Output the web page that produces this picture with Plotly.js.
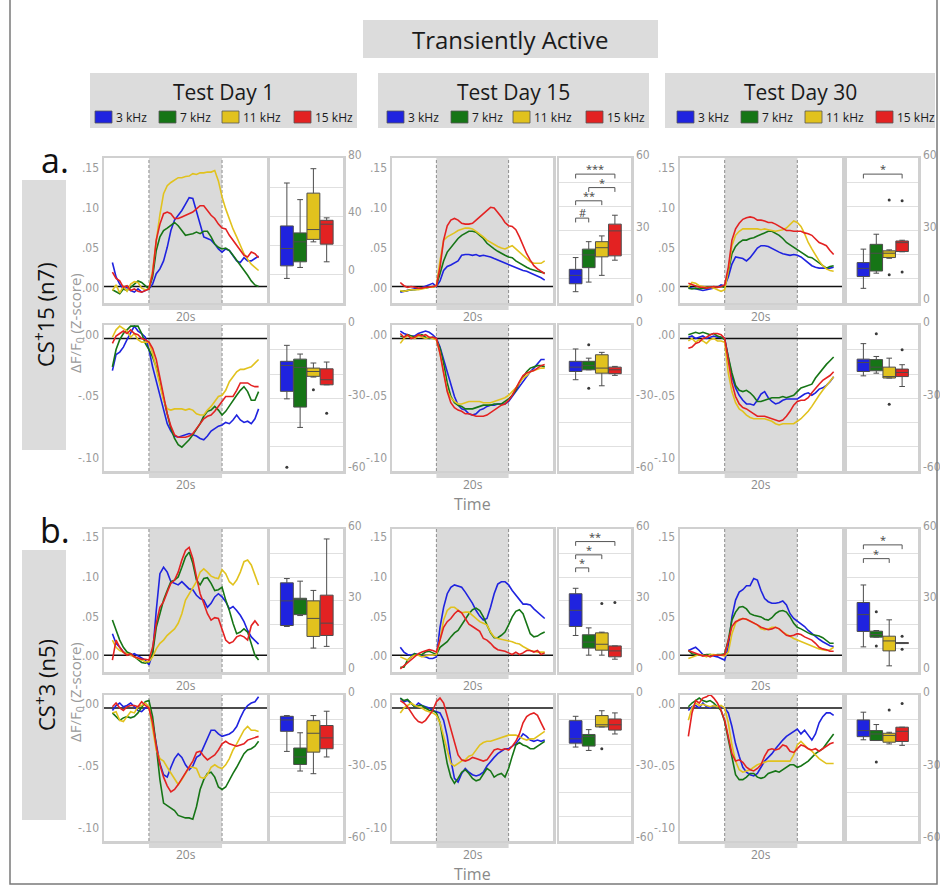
<!DOCTYPE html>
<html>
<head>
<meta charset="utf-8">
<script src="https://cdn.plot.ly/plotly-3.0.1.min.js"></script>
<style>
  html, body { margin: 0; padding: 0; background: #fff; }
  #chart { width: 940px; height: 886px; }
</style>
</head>
<body>
<div id="chart"></div>
<script>
// ---------------- shared labels ----------------
const timeSec = [-10,-9,-8,-7,-6,-5,-4,-3,-2,-1,0,1,2,3,4,5,6,7,8,9,10,11,12,13,14,15,16,17,18,19,20,21,22,23,24,25,26,27,28,29,30];
const freqLabels = ['3 kHz', '7 kHz', '11 kHz', '15 kHz'];
const dayTitles = ['Test Day 1', 'Test Day 15', 'Test Day 30'];
const groupTitles = ['CS<sup>+</sup>15 (n7)', 'CS<sup>+</sup>3 (n5)'];
const groupLetters = ['a.', 'b.'];
const excTickVals = [0.15, 0.10, 0.05, 0];
const excTickText = ['.15', '.10', '.05', '.00'];
const inhTickVals = [0, -0.05, -0.10];
const inhTickText = ['.00', '-.05', '-.10'];

// ---------------- mean traces, ΔF/F0 per second (-10 s .. 30 s) ----------------
// Group a, excited cells
const aExc1_3k  = [.030,.012,.003,-.003,-.001,-.005,-.007,-.003,-.007,-.005, -.003,.003,.016,.022,.032,.049,.070,.083,.089,.095, .103,.111,.110,.095,.078,.062,.060,.058,.053,.047, .043,.047,.045,.039,.032,.030,.036,.032,.032,.035,.038];
const aExc1_7k  = [-.004,-.007,-.009,-.003,-.005,-.001,.003,.007,.005,.001, -.003,.012,.045,.062,.070,.073,.076,.080,.076,.070, .064,.065,.066,.068,.066,.069,.069,.062,.053,.049, .047,.048,.045,.039,.033,.026,.020,.014,.007,.002,.000];
const aExc1_11k = [-.005,.002,-.008,.000,-.006,.003,.006,.005,-.002,-.004, -.003,.020,.057,.090,.116,.126,.130,.133,.136,.136, .1375,.138,.141,.140,.142,.142,.143,.143,.145,.132, .112,.097,.083,.072,.062,.051,.041,.034,.028,.024,.020];
const aExc1_15k = [.018,.010,.007,-.001,.001,-.005,-.003,-.006,-.007,-.005, -.003,.016,.058,.078,.091,.093,.091,.085,.085,.087, .089,.091,.093,.097,.101,.101,.095,.089,.085,.078, .073,.072,.064,.058,.051,.045,.039,.037,.043,.041,.036];

const aExc15_3k  = [-.007,-.006,-.005,-.004,-.003,-.003,-.001,.001,.003,.004, .000,.007,.020,.025,.027,.029,.032,.039,.040,.040, .039,.040,.038,.039,.038,.037,.035,.033,.032,.029, .027,.026,.024,.022,.020,.019,.017,.016,.014,.011,.008];
const aExc15_7k  = [-.006,-.006,-.005,-.004,-.004,-.003,-.002,-.002,-.001,-.001, .001,.016,.032,.043,.049,.055,.060,.064,.067,.069, .069,.068,.064,.060,.054,.050,.047,.044,.041,.039, .037,.036,.032,.029,.026,.024,.022,.020,.019,.018,.017];
const aExc15_11k = [-.005,-.006,-.005,-.004,-.004,-.004,-.003,-.002,-.001,-.001, .001,.032,.058,.062,.064,.067,.070,.072,.073,.073, .072,.069,.066,.062,.058,.055,.053,.050,.048,.047, .049,.051,.047,.043,.039,.035,.031,.029,.029,.029,.032];
const aExc15_15k = [.005,.001,-.001,.000,-.001,-.002,-.002,-.001,-.001,.000, .001,.024,.058,.076,.083,.085,.083,.079,.078,.078, .079,.083,.087,.091,.095,.099,.098,.093,.087,.080, .076,.075,.071,.062,.051,.041,.033,.026,.022,.019,.016];

const aExc30_3k  = [-.001,-.002,-.003,-.004,-.005,-.004,-.003,-.002,-.001,.002, .001,.012,.028,.037,.036,.035,.032,.036,.042,.048, .051,.051,.050,.048,.045,.043,.041,.040,.039,.040, .039,.037,.033,.029,.026,.024,.023,.023,.023,.023,.024];
const aExc30_7k  = [-.002,-.003,-.002,-.003,-.002,-.002,-.001,-.001,-.001,.000, -.001,.018,.041,.050,.055,.058,.058,.060,.061,.063, .065,.067,.069,.069,.067,.064,.060,.055,.052,.049, .046,.043,.039,.037,.036,.033,.030,.026,.023,.025,.026];
const aExc30_11k = [-.001,.005,.004,.001,.000,-.001,-.001,-.002,-.004,-.006, -.004,.020,.051,.064,.069,.072,.072,.072,.072,.072, .071,.072,.071,.070,.069,.070,.071,.073,.078,.082, .080,.075,.066,.055,.047,.039,.032,.026,.022,.020,.019];
const aExc30_15k = [.004,.002,.000,-.001,-.001,-.002,-.001,.000,-.001,.000, .002,.024,.058,.072,.079,.084,.086,.087,.086,.083, .083,.082,.080,.080,.078,.075,.072,.070,.070,.069, .069,.069,.067,.066,.064,.060,.055,.053,.051,.045,.040];

// Group a, inhibited cells
const aInh1_3k  = [-.026,-.013,-.011,-.007,-.001,.005,.010,.006,.004,.001, -.009,-.023,-.034,-.047,-.058,-.069,-.075,-.079,-.080,-.079, -.078,-.077,-.078,-.079,-.081,-.082,-.079,-.075,-.073,-.071, -.070,-.068,-.069,-.066,-.062,-.066,-.068,-.067,-.069,-.065,-.057];
const aInh1_7k  = [-.023,-.009,-.001,.004,.007,.010,.010,.010,.004,-.004, -.009,-.015,-.023,-.036,-.050,-.061,-.073,-.081,-.086,-.088, -.085,-.082,-.078,-.074,-.069,-.063,-.059,-.058,-.055,-.058, -.062,-.059,-.055,-.050,-.046,-.042,-.039,-.043,-.050,-.050,-.043];
const aInh1_11k = [.001,.007,.010,.008,.006,.001,.004,-.001,-.003,-.003, -.003,-.012,-.025,-.039,-.050,-.057,-.058,-.057,-.057,-.057, -.058,-.057,-.058,-.061,-.062,-.062,-.058,-.055,-.051,-.047, -.046,-.042,-.035,-.031,-.027,-.025,-.025,-.024,-.023,-.020,-.017];
const aInh1_15k = [-.004,.002,.004,.006,.004,.007,.004,.003,.000,-.001, -.003,-.008,-.017,-.031,-.047,-.061,-.071,-.078,-.080,-.080, -.080,-.079,-.077,-.073,-.069,-.065,-.063,-.062,-.059,-.055, -.050,-.047,-.047,-.047,-.042,-.036,-.036,-.036,-.038,-.039,-.039];

const aInh15_3k  = [.006,.004,.003,.002,.002,.004,.005,.006,.005,.003, .000,-.007,-.017,-.027,-.038,-.047,-.054,-.057,-.058,-.061, -.062,-.061,-.058,-.057,-.055,-.054,-.054,-.053,-.053,-.053, -.051,-.047,-.043,-.038,-.034,-.030,-.027,-.024,-.020,-.017,-.017];
const aInh15_7k  = [.002,.001,.003,.002,.001,.002,.003,.001,.000,.001, -.001,-.008,-.020,-.036,-.047,-.052,-.054,-.055,-.057,-.057, -.057,-.056,-.055,-.054,-.054,-.054,-.053,-.053,-.053,-.051, -.049,-.046,-.042,-.036,-.031,-.027,-.024,-.023,-.022,-.022,-.023];
const aInh15_11k = [-.004,.000,.002,.001,.000,.002,.001,.000,.001,.000, -.001,-.012,-.027,-.042,-.048,-.051,-.053,-.053,-.052,-.051, -.051,-.051,-.051,-.052,-.052,-.052,-.051,-.050,-.049,-.048, -.046,-.043,-.040,-.036,-.032,-.030,-.027,-.026,-.025,-.024,-.024];
const aInh15_15k = [.004,.001,.003,.000,.001,.003,.002,.003,.001,.001, .000,-.012,-.028,-.043,-.052,-.056,-.058,-.059,-.061,-.061, -.062,-.063,-.063,-.063,-.062,-.060,-.058,-.056,-.054,-.053, -.050,-.046,-.040,-.035,-.030,-.028,-.027,-.026,-.024,-.022,-.021];

const aInh30_3k  = [.001,.002,.000,.001,.002,.000,.001,.002,.001,.001, .000,-.017,-.031,-.040,-.046,-.050,-.053,-.053,-.054,-.050, -.045,-.043,-.048,-.051,-.053,-.052,-.050,-.049,-.049,-.049, -.049,-.047,-.045,-.044,-.046,-.044,-.041,-.040,-.038,-.035,-.031];
const aInh30_7k  = [.003,.004,.005,.004,.005,.004,.003,.004,.002,.001, -.001,-.015,-.028,-.038,-.042,-.043,-.042,-.044,-.047,-.051, -.051,-.050,-.049,-.048,-.048,-.048,-.047,-.048,-.047,-.046, -.043,-.040,-.039,-.038,-.037,-.032,-.028,-.025,-.021,-.018,-.015];
const aInh30_11k = [-.002,.000,-.003,-.001,-.002,-.004,-.001,.000,-.002,-.002, -.003,-.028,-.043,-.052,-.057,-.059,-.062,-.064,-.065,-.065, -.065,-.065,-.066,-.067,-.069,-.070,-.069,-.069,-.069,-.069, -.067,-.065,-.062,-.059,-.055,-.050,-.046,-.042,-.038,-.034,-.031];
const aInh30_15k = [-.008,-.007,-.004,-.003,.000,.001,.003,.004,.004,.003, .000,-.020,-.036,-.047,-.053,-.056,-.057,-.059,-.061,-.063, -.063,-.063,-.064,-.065,-.066,-.067,-.066,-.063,-.059,-.054, -.051,-.050,-.050,-.048,-.044,-.040,-.037,-.034,-.032,-.030,-.027];

// Group b, excited cells
const bExc1_3k  = [.027,.015,.010,.004,.002,.000,.002,-.001,-.004,-.006, -.012,.002,.056,.102,.110,.104,.092,.090,.088,.092, .088,.083,.082,.075,.071,.069,.060,.065,.073,.077, .073,.067,.058,.061,.056,.050,.042,.031,.023,.018,.014];
const bExc1_7k  = [.044,.031,.019,.010,.004,.002,-.002,-.006,-.009,-.010, -.008,.002,.035,.052,.069,.081,.092,.094,.098,.110, .123,.129,.115,.094,.088,.096,.097,.090,.081,.082, .085,.069,.056,.040,.027,.029,.033,.029,.013,.000,-.006];
const bExc1_11k = [.019,.010,.006,.004,.002,.000,-.002,-.005,-.007,-.008, -.008,-.002,.008,.015,.019,.025,.029,.033,.040,.052, .069,.077,.085,.092,.104,.108,.104,.099,.097,.096, .107,.102,.092,.088,.094,.104,.117,.119,.113,.100,.088];
const bExc1_15k = [-.006,.019,.010,.004,.000,.002,-.002,-.004,-.005,-.005, -.006,.010,.040,.060,.067,.079,.090,.094,.104,.119, .131,.135,.121,.098,.077,.065,.052,.044,.047,.046, .031,.019,.015,.017,.023,.025,.023,.019,.037,.043,.037];

const bExc15_3k  = [.010,.004,.001,.000,.002,.000,-.001,-.002,-.004,-.004, -.002,.035,.060,.077,.085,.088,.086,.085,.079,.072, .065,.056,.049,.044,.046,.060,.077,.089,.092,.092, .088,.081,.075,.069,.064,.064,.063,.058,.054,.050,.046];
const bExc15_7k  = [-.015,-.015,-.006,-.002,.002,.000,.001,.004,.005,.003, .001,.010,.013,.017,.023,.028,.031,.038,.045,.052, .057,.059,.056,.048,.038,.028,.022,.022,.025,.029, .038,.048,.055,.057,.052,.040,.027,.023,.024,.027,.029];
const bExc15_11k = [-.002,-.004,-.006,-.002,.000,.000,-.002,-.001,.000,.000, .001,.019,.044,.056,.060,.060,.056,.053,.054,.054, .050,.046,.042,.040,.038,.029,.023,.021,.020,.019, .018,.017,.015,.014,.011,.008,.006,.005,.004,.004,.004];
const bExc15_15k = [-.017,-.013,-.010,-.006,-.002,.002,.004,.006,.007,.006, .004,.019,.035,.042,.046,.052,.056,.053,.046,.039, .036,.033,.030,.021,.019,.015,.010,.007,.006,.005, .003,.001,.004,.001,.003,.006,.006,.004,.006,.001,.003];

const bExc30_3k  = [.006,.008,.010,.006,.001,.000,.001,-.001,-.002,-.004, -.006,.010,.048,.069,.079,.082,.087,.087,.096,.094, .081,.071,.067,.065,.065,.066,.068,.063,.052,.046, .043,.040,.036,.031,.027,.023,.020,.017,.014,.012,.011];
const bExc30_7k  = [.006,.002,.001,.000,.000,.001,.001,.000,.001,.001, .002,.019,.044,.054,.060,.061,.058,.052,.050,.049, .048,.045,.044,.047,.052,.055,.056,.054,.048,.040, .035,.033,.030,.028,.026,.025,.024,.022,.019,.015,.015];
const bExc30_11k = [-.004,-.002,.000,.001,.000,-.002,.001,.001,.000,.000, -.001,.004,.027,.040,.045,.046,.045,.043,.040,.038, .033,.032,.033,.035,.035,.033,.029,.026,.024,.021, .019,.017,.015,.014,.011,.010,.008,.007,.006,.007,.010];
const bExc30_15k = [.006,.004,.002,.001,-.001,.000,-.002,.000,.000,.000, .001,.019,.036,.042,.044,.046,.045,.043,.040,.038, .035,.033,.032,.033,.035,.033,.029,.025,.024,.025, .027,.026,.023,.021,.019,.015,.010,.008,.007,.005,.005];

// Group b, inhibited cells
const bInh1_3k  = [-.002,.002,.004,.001,.002,.004,.001,-.002,-.003,.000, .001,-.012,-.029,-.045,-.054,-.056,-.048,-.041,-.037,-.040, -.046,-.050,-.047,-.040,-.038,-.031,-.025,-.018,-.018,-.021, -.023,-.022,-.021,-.019,-.015,-.008,-.002,.002,.004,.005,.009];
const bInh1_7k  = [-.004,-.007,-.010,-.008,-.007,-.008,-.007,-.004,.001,.005, .006,-.007,-.031,-.058,-.077,-.079,-.081,-.083,-.087,-.088, -.089,-.089,-.090,-.080,-.066,-.058,-.053,-.052,-.056,-.064, -.066,-.064,-.058,-.053,-.048,-.042,-.037,-.034,-.033,-.031,-.027];
const bInh1_11k = [-.004,-.003,-.010,-.011,-.007,-.003,-.004,.001,.002,.004, .001,-.015,-.034,-.041,-.043,-.048,-.053,-.058,-.062,-.058, -.053,-.048,-.048,-.049,-.056,-.057,-.054,-.048,-.046,-.048, -.049,-.046,-.041,-.034,-.029,-.023,-.018,-.015,-.018,-.018,-.019];
const bInh1_15k = [.001,.004,.000,-.002,.001,.002,.002,.001,.005,.002, .000,-.012,-.031,-.046,-.056,-.063,-.068,-.066,-.062,-.057, -.052,-.048,-.043,-.036,-.035,-.039,-.042,-.040,-.038,-.034, -.029,-.027,-.029,-.030,-.031,-.030,-.029,-.026,-.025,-.024,-.023];

const bInh15_3k  = [.008,.005,.006,.004,.001,.004,.002,.001,.000,-.002, -.003,-.004,-.010,-.023,-.042,-.057,-.060,-.053,-.049,-.052, -.054,-.055,-.054,-.052,-.047,-.043,-.040,-.037,-.035,-.033, -.033,-.031,-.029,-.025,-.021,-.023,-.026,-.027,-.026,-.027,-.026];
const bInh15_7k  = [.008,.006,.007,.004,.001,.002,.002,.000,-.002,-.002, -.004,-.012,-.029,-.045,-.056,-.061,-.057,-.052,-.050,-.053, -.057,-.059,-.058,-.053,-.049,-.051,-.056,-.054,-.053,-.056, -.049,-.039,-.030,-.028,-.030,-.031,-.033,-.033,-.031,-.029,-.027];
const bInh15_11k = [-.004,.000,.002,.004,.002,.001,.000,-.002,-.003,-.004, -.006,-.012,-.023,-.035,-.045,-.047,-.045,-.043,-.042,-.039, -.038,-.034,-.030,-.028,-.027,-.027,-.026,-.025,-.024,-.023, -.022,-.022,-.022,-.023,-.025,-.026,-.025,-.025,-.023,-.021,-.019];
const bInh15_15k = [.006,.004,.001,-.004,-.008,-.011,-.012,-.010,-.006,-.002, .005,.008,.004,-.007,-.018,-.029,-.038,-.042,-.043,-.042, -.040,-.041,-.042,-.043,-.042,-.038,-.034,-.033,-.034,-.033, -.034,-.031,-.027,-.021,-.012,-.007,-.005,-.004,-.006,-.012,-.018];

const bInh30_3k  = [-.002,.001,.002,.000,.004,.001,.000,.002,.001,.001, .000,-.004,-.015,-.029,-.039,-.048,-.052,-.054,-.055,-.053, -.048,-.043,-.040,-.037,-.033,-.029,-.026,-.023,-.021,-.019, -.017,-.021,-.018,-.022,-.026,-.021,-.012,-.007,-.004,-.004,-.006];
const bInh30_7k  = [.001,.004,.006,.008,.006,.005,.006,.004,.001,-.002, -.011,-.026,-.042,-.054,-.058,-.058,-.056,-.053,-.053,-.056, -.057,-.056,-.053,-.052,-.051,-.052,-.050,-.048,-.046,-.046, -.048,-.047,-.045,-.043,-.040,-.037,-.035,-.033,-.029,-.025,-.021];
const bInh30_11k = [-.010,.000,.004,.002,.003,.002,.001,.002,.001,.002, .000,-.012,-.030,-.043,-.050,-.052,-.051,-.050,-.048,-.046, -.045,-.044,-.043,-.043,-.043,-.043,-.043,-.043,-.043,-.038, -.030,-.027,-.030,-.033,-.035,-.038,-.041,-.043,-.045,-.045,-.045];
const bInh30_15k = [-.023,-.004,.006,.004,.008,.009,.011,.008,.004,-.002, -.010,-.023,-.037,-.043,-.042,-.044,-.048,-.050,-.051,-.049, -.046,-.039,-.034,-.033,-.034,-.033,-.030,-.031,-.035,-.036, -.033,-.030,-.031,-.033,-.034,-.033,-.035,-.033,-.031,-.029,-.028];

// ---------------- Z-score summaries: [lower whisker, q1, median, q3, upper whisker] per tone ----------------
const aExc1_box  = [[-3,5.7,17.7,33.3,63], [4.6,8.5,22.3,28.5,51.5], [22.3,24,30.8,56,72.9], [8.5,20.7,34.5,37.2,38.9]];
const aExc15_box = [[4.7,8,11.5,14,18.9], [8.7,14.7,20,22.4,25.5], [11.5,19.2,23,25.5,27.9], [17.8,19.6,30,32.8,36.5]];
const aExc30_box = [[6.1,11,14.4,16.8,22.4], [12.4,13.3,20.7,24.4,28.6], [18.6,18.9,20.7,21.7,22.1], [21.3,21.4,25.1,25.8,26.1]];
const aInh1_box  = [[-30.2,-27.1,-16.4,-14.7,-8.1], [-42,-33.6,-17.2,-13.8,-11.7], [-21.2,-20.9,-18.9,-17.5,-15.4], [-24.4,-24.4,-22.3,-17.8,-15]];
const aInh15_box = [[-22.3,-18.9,-17.1,-14.7,-9.6], [-18.2,-18.2,-16.5,-14.7,-13.4], [-24.8,-19.6,-17.5,-12,-11], [-20.5,-19.8,-18.2,-17.1,-16.8]];
const aInh30_box = [[-20.7,-18.9,-15.2,-13.8,-7.4], [-19.6,-18.6,-17.1,-14,-12.7], [-21.6,-21.6,-21,-17.1,-13.4], [-25.1,-21,-19.3,-17.9,-16.1]];
const bExc1_box  = [[19.2,19.6,30,37.6,39.4], [23.8,24.2,30.5,31.1,38.3], [10.1,15,22.6,30,34.4], [10.8,15.4,20.6,32.4,56.1]];
const bExc15_box = [[15.4,19.2,26,33,35.3], [7.1,10.1,12.6,15.7,18.6], [7.1,9.2,11.7,16.5,16.8], [5.4,6.4,8.9,11,11]];
const bExc30_box = [[10.6,17.1,24.2,29.3,36.7], [14.7,14.7,15.8,17.2,17.5], [2.6,8.9,13.1,15.1,22], [12,12,12.2,12.4,12.4]];
const bInh1_box  = [[-23,-14.7,-10,-8.5,-8.2], [-31.1,-28.4,-25.3,-21.6,-15.3], [-32.2,-23.3,-15.5,-10.3,-8.2], [-25.3,-21.9,-17.4,-12.3,-6.4]];
const bInh15_box = [[-21.2,-19.6,-17.8,-10.3,-8.5], [-22.6,-20.8,-16.9,-16,-14], [-12.9,-12.9,-12,-8.2,-6.2], [-15.8,-14.2,-12,-9.6,-7.1]];
const bInh30_box = [[-18.2,-16.9,-14.4,-10,-6.8], [-18.5,-18.5,-15.8,-14.4,-11.9], [-19.9,-19.2,-16.4,-15.5,-15.1], [-20.5,-18.9,-14.7,-13,-13]];

// outliers: [tone index, value]
const aInh1_out  = [[0,-58.4], [2,-26.4], [3,-36.1]];
const aExc30_out = [[2,42.8], [2,11.7], [3,42.5], [3,12.9]];
const aInh15_out = [[1,-7.9], [1,-25.8]];
const aInh30_out = [[1,-3.3], [2,-32.4], [3,-9.9]];
const bExc15_out = [[2,28.9], [3,29.3]];
const bExc30_out = [[1,25.4], [1,11], [3,15.1], [3,9.6]];
const bInh15_out = [[2,-21.9]];
const bInh30_out = [[1,-27.4], [2,-5.9], [3,-3.2]];

// significance brackets: [from tone, to tone, height, label]
const aExc15_sig = [[0,3,53.6,'***'], [1,3,48,'*'], [0,2,42.5,'**'], [0,1,35.3,'#']];
const aExc30_sig = [[0,3,53.6,'*']];
const bExc15_sig = [[0,3,55,'**'], [0,2,49.4,'*'], [0,1,43.9,'*']];
const bExc30_sig = [[0,3,53.6,'*'], [0,2,47.8,'*']];

// ---------------- drawing ----------------
const toneColors = ['#1f23df', '#167516', '#e1c21e', '#e32222'];
const W = 940, H = 886;
const fx = p => p / W;
const fy = p => 1 - p / H;
const FONT = 'Open Sans, Liberation Sans, Arial, sans-serif';
const TICK_FONT = 'Liberation Sans Narrow, DejaVu Sans Condensed, Open Sans, Arial, sans-serif';
const GREY_TXT = '#9a9a9a';
const BORDER = '#d0d0d0';

const lineColsPx = [[104, 267], [392, 553], [680, 842]];
const boxColsPx  = [[270, 343], [559, 631], [847, 918]];
const rowsPx     = [[158, 303], [325, 471], [529, 672], [695, 841]];
const lineRanges = [[-0.0206, 0.1606], [-0.1073, 0.0109], [-0.0209, 0.1579], [-0.1077, 0.0105]];

const panels = [
  {row:0, col:0, s:[aExc1_3k, aExc1_7k, aExc1_11k, aExc1_15k],     box:aExc1_box,  out:[],         sig:[]},
  {row:0, col:1, s:[aExc15_3k, aExc15_7k, aExc15_11k, aExc15_15k], box:aExc15_box, out:[],         sig:aExc15_sig},
  {row:0, col:2, s:[aExc30_3k, aExc30_7k, aExc30_11k, aExc30_15k], box:aExc30_box, out:aExc30_out, sig:aExc30_sig},
  {row:1, col:0, s:[aInh1_3k, aInh1_7k, aInh1_11k, aInh1_15k],     box:aInh1_box,  out:aInh1_out,  sig:[]},
  {row:1, col:1, s:[aInh15_3k, aInh15_7k, aInh15_11k, aInh15_15k], box:aInh15_box, out:aInh15_out, sig:[]},
  {row:1, col:2, s:[aInh30_3k, aInh30_7k, aInh30_11k, aInh30_15k], box:aInh30_box, out:aInh30_out, sig:[]},
  {row:2, col:0, s:[bExc1_3k, bExc1_7k, bExc1_11k, bExc1_15k],     box:bExc1_box,  out:[],         sig:[]},
  {row:2, col:1, s:[bExc15_3k, bExc15_7k, bExc15_11k, bExc15_15k], box:bExc15_box, out:bExc15_out, sig:bExc15_sig},
  {row:2, col:2, s:[bExc30_3k, bExc30_7k, bExc30_11k, bExc30_15k], box:bExc30_box, out:bExc30_out, sig:bExc30_sig},
  {row:3, col:0, s:[bInh1_3k, bInh1_7k, bInh1_11k, bInh1_15k],     box:bInh1_box,  out:[],         sig:[]},
  {row:3, col:1, s:[bInh15_3k, bInh15_7k, bInh15_11k, bInh15_15k], box:bInh15_box, out:bInh15_out, sig:[]},
  {row:3, col:2, s:[bInh30_3k, bInh30_7k, bInh30_11k, bInh30_15k], box:bInh30_box, out:bInh30_out, sig:[]}
];

const axId = n => (n === 1 ? '' : String(n));
const traces = [];
const shapes = [];
const annotations = [];
// every text is centred on its anchor point unless told otherwise
const note = o => annotations.push(Object.assign({showarrow: false, xanchor: 'center', yanchor: 'middle'}, o));
const paperNote = (xp, yp, text, font, extra) =>
  note(Object.assign({xref: 'paper', yref: 'paper', x: fx(xp), y: fy(yp), text: text, font: font}, extra || {}));

const layout = {
  width: W, height: H,
  margin: {l: 0, r: 0, t: 0, b: 0},
  paper_bgcolor: '#ffffff', plot_bgcolor: '#ffffff',
  showlegend: false,
  font: {family: FONT, color: GREY_TXT, size: 12}
};

panels.forEach((p, k) => {
  const n = k + 1, nb = k + 13;
  const xa = 'x' + axId(n), ya = 'y' + axId(n);
  const xb = 'x' + axId(nb), yb = 'y' + axId(nb);
  const [top, bot] = rowsPx[p.row];
  const exc = (p.row % 2 === 0);
  const lc = lineColsPx[p.col], bc = boxColsPx[p.col];

  // time-course panel
  layout['xaxis' + axId(n)] = {
    domain: [fx(lc[0]), fx(lc[1])], anchor: ya, range: [-12.3, 32.3],
    showticklabels: false, ticks: '', showgrid: false, zeroline: false,
    showline: true, mirror: true, linecolor: BORDER, linewidth: 2.5, fixedrange: true
  };
  layout['yaxis' + axId(n)] = {
    domain: [fy(bot), fy(top)], anchor: xa, range: lineRanges[p.row],
    tickmode: 'array', tickvals: exc ? excTickVals : inhTickVals, ticktext: exc ? excTickText : inhTickText,
    ticks: '', showgrid: false, zeroline: false,
    showline: true, mirror: true, linecolor: BORDER, linewidth: 2.5, ticklabelstandoff: 0,
    tickfont: {family: TICK_FONT, size: 12, color: GREY_TXT}, ticklabelshift: exc ? 1 : -4, fixedrange: true
  };

  // stimulus window (0-20 s)
  shapes.push({type: 'rect', xref: xa, yref: ya + ' domain', x0: 0, x1: 20, y0: 0, y1: 1,
               fillcolor: '#dadada', line: {width: 0}, layer: 'below'});
  [0, 20].forEach(t => shapes.push({type: 'line', xref: xa, yref: ya + ' domain', x0: t, x1: t, y0: 0, y1: 1,
               line: {color: '#8e8e8e', width: 1, dash: '3px,2px'}, layer: 'below'}));
  shapes.push({type: 'line', xref: xa + ' domain', yref: ya, x0: 0, x1: 1, y0: 0, y1: 0,
               line: {color: '#111111', width: 1.6}, layer: 'below'});
  shapes.push({type: 'rect', xref: xa, yref: 'paper', x0: 0, x1: 20, y0: fy(bot + 7), y1: fy(bot + 2),
               fillcolor: '#d6d6d6', line: {width: 0}});
  note({xref: xa, yref: 'paper', x: 10, y: fy(bot + 13), text: '20s',
        font: {family: FONT, size: 12, color: '#8a8a8a'}});

  p.s.forEach((series, i) => traces.push({
    type: 'scatter', mode: 'lines', x: timeSec, y: series, xaxis: xa, yaxis: ya,
    line: {color: toneColors[i], width: 1.6}, hoverinfo: 'skip', name: freqLabels[i]
  }));

  // summary box panel
  let bRange, bTicks, bStep;
  if (!exc) { bRange = [-60, 0.3]; bTicks = [0, -30, -60]; bStep = 10; }
  else if (p.col === 0 && p.row === 0) { bRange = [-20, 80.3]; bTicks = [0, 40, 80]; bStep = 20; }
  else { bRange = [0, 60.3]; bTicks = [0, 30, 60]; bStep = 10; }

  layout['xaxis' + axId(nb)] = {
    domain: [fx(bc[0]), fx(bc[1])], anchor: yb, range: [-1.27, 4.23],
    showticklabels: false, ticks: '', showgrid: false, zeroline: false,
    showline: true, mirror: true, linecolor: BORDER, linewidth: 2.5, fixedrange: true
  };
  layout['yaxis' + axId(nb)] = {
    domain: [fy(bot), fy(top)], anchor: xb, side: 'right', range: bRange,
    tickmode: 'array', tickvals: bTicks, ticktext: bTicks.map(String), ticks: '',
    showgrid: true, gridcolor: '#e0e0e0', gridwidth: 1, zeroline: false,
    minor: {tick0: 0, dtick: bStep, showgrid: true, gridcolor: '#e0e0e0', gridwidth: 1, ticks: ''},
    showline: true, mirror: true, linecolor: BORDER, linewidth: 2.5, ticklabelstandoff: 0,
    tickfont: {family: TICK_FONT, size: 12, color: GREY_TXT}, ticklabelshift: -4, fixedrange: true
  };

  p.box.forEach((st, i) => traces.push({
    type: 'box', x: [i], lowerfence: [st[0]], q1: [st[1]], median: [st[2]], q3: [st[3]], upperfence: [st[4]],
    xaxis: xb, yaxis: yb, fillcolor: toneColors[i], line: {color: '#4d4d4d', width: 1},
    width: 0.97, whiskerwidth: 0.45, boxpoints: false, hoverinfo: 'skip', name: freqLabels[i]
  }));
  if (p.out.length) traces.push({
    type: 'scatter', mode: 'markers', x: p.out.map(o => o[0]), y: p.out.map(o => o[1]),
    xaxis: xb, yaxis: yb, marker: {color: '#3a3a3a', size: 3}, hoverinfo: 'skip'
  });
  p.sig.forEach(([a, b, h, lab]) => {
    shapes.push({type: 'path', xref: xb, yref: yb,
                 path: `M ${a},${h - 1.8} L ${a},${h} L ${b},${h} L ${b},${h - 1.8}`,
                 line: {color: '#555555', width: 1}});
    note({xref: xb, yref: yb, x: (a + b) / 2, y: h, text: lab, yanchor: 'bottom', yshift: -4,
          font: {family: FONT, size: 11, color: '#444444'}});
  });
});

// "Time" under the middle column
[504, 874].forEach(y => paperNote((lineColsPx[1][0] + lineColsPx[1][1]) / 2, y, 'Time',
                                  {family: FONT, size: 16, color: '#8a8a8a'}));

// y-axis titles
[323, 692].forEach(yc => paperNote(76, yc, 'ΔF/F<sub>0</sub> (Z-score)',
                                   {family: FONT, size: 15, color: GREY_TXT}, {textangle: -90}));

// group boxes, titles and letters
[[180, 450], [550, 820]].forEach(([t, b], g) => {
  shapes.push({type: 'rect', xref: 'paper', yref: 'paper', x0: fx(22), x1: fx(66), y0: fy(b), y1: fy(t),
               fillcolor: '#dcdcdc', line: {width: 0}});
  paperNote(45, (t + b) / 2, groupTitles[g], {family: FONT, size: 22, color: '#111111'}, {textangle: -90});
  paperNote(55, t - 20, groupLetters[g], {family: FONT, size: 34, color: '#111111'});
});

// main title
shapes.push({type: 'rect', xref: 'paper', yref: 'paper', x0: fx(363), x1: fx(658), y0: fy(58), y1: fy(20),
             fillcolor: '#dcdcdc', line: {width: 0}});
paperNote(510, 39, 'Transiently Active', {family: FONT, size: 24, color: '#1a1a1a'});

// day headers with tone keys
const headerPx = [[90, 357], [378, 649], [665, 935]];
const keyPx = [[95, 159, 222, 294], [387, 451, 513, 586], [677, 741, 805, 876]];
headerPx.forEach(([l, r], c) => {
  shapes.push({type: 'rect', xref: 'paper', yref: 'paper', x0: fx(l), x1: fx(r), y0: fy(128), y1: fy(73),
               fillcolor: '#dcdcdc', line: {width: 0}});
  paperNote((l + r) / 2, 92, dayTitles[c], {family: FONT, size: 21, color: '#1a1a1a'});
  keyPx[c].forEach((kx, i) => {
    shapes.push({type: 'rect', xref: 'paper', yref: 'paper', x0: fx(kx), x1: fx(kx + 17), y0: fy(123), y1: fy(111),
                 fillcolor: toneColors[i], line: {color: '#555555', width: 0.8}});
    paperNote(kx + 19, 117, freqLabels[i], {family: FONT, size: 12, color: '#1a1a1a'}, {xanchor: 'left'});
  });
});

// outer frame
shapes.push({type: 'path', xref: 'paper', yref: 'paper',
             path: `M ${fx(10)},${fy(0)} L ${fx(10)},${fy(884)} L ${fx(937)},${fy(884)} L ${fx(937)},${fy(0)}`,
             line: {color: '#7a7a7a', width: 1.5}});

layout.shapes = shapes;
layout.annotations = annotations;

Plotly.newPlot('chart', traces, layout, {displayModeBar: false, staticPlot: true});
</script>
</body>
</html>
